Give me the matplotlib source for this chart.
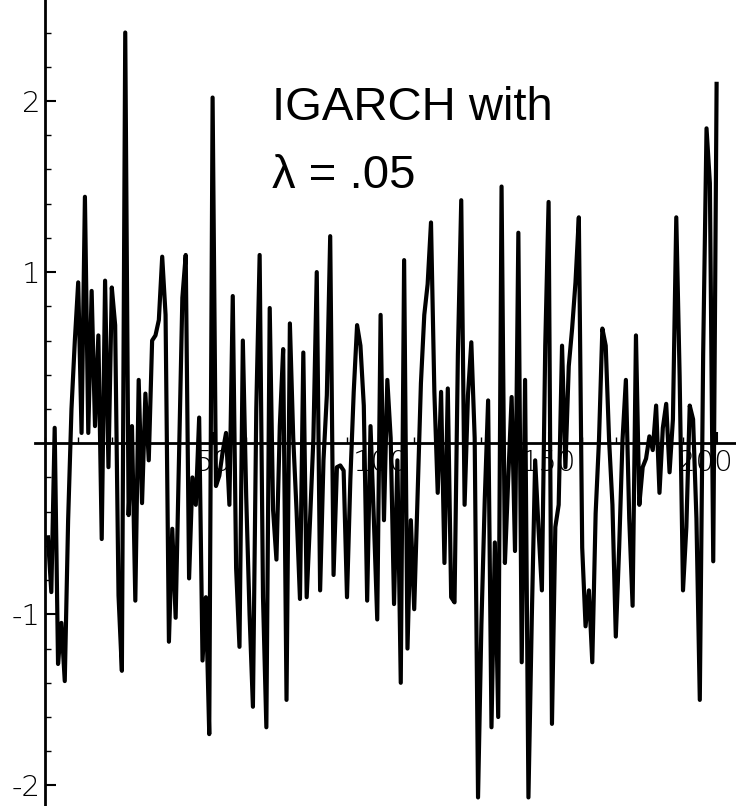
import numpy as np
import matplotlib
matplotlib.use("Agg")
import matplotlib.pyplot as plt
import matplotlib.transforms as mtransforms
from matplotlib.ticker import MultipleLocator

# simulated IGARCH series (t = 1..200)
values = [
    -0.55, -0.87, 0.09, -1.29, -1.05, -1.39, -0.45, 0.20, 0.60, 0.94,
    0.06, 1.44, 0.06, 0.89, 0.10, 0.63, -0.56, 0.95, -0.14, 0.91,
    0.69, -0.89, -1.33, 2.40, -0.42, 0.10, -0.92, 0.37, -0.35, 0.29,
    -0.10, 0.60, 0.63, 0.72, 1.09, 0.75, -1.16, -0.50, -1.02, -0.10,
    0.85, 1.10, -0.79, -0.20, -0.36, 0.15, -1.27, -0.90, -1.70, 2.02,
    -0.25, -0.19, -0.05, 0.06, -0.36, 0.86, -0.73, -1.19, 0.60, -0.31,
    -1.00, -1.54, 0.20, 1.10, -0.90, -1.66, 0.79, -0.39, -0.68, 0.10,
    0.55, -1.50, 0.70, 0.03, -0.40, -0.91, 0.53, -0.90, -0.45, 0.03,
    1.00, -0.86, -0.10, 0.28, 1.21, -0.77, -0.14, -0.13, -0.16, -0.90,
    -0.21, 0.30, 0.69, 0.57, 0.22, -0.92, 0.10, -0.45, -1.03, 0.75,
    -0.45, 0.37, 0.03, -0.94, -0.10, -1.40, 1.07, -1.20, -0.45, -0.97,
    -0.30, 0.35, 0.75, 0.93, 1.29, 0.30, -0.29, 0.30, -0.70, 0.32,
    -0.90, -0.93, 0.52, 1.42, -0.36, 0.28, 0.59, 0.03, -2.07, -1.06,
    -0.33, 0.25, -1.66, -0.58, -1.60, 1.50, -0.70, -0.20, 0.27, -0.63,
    1.23, -1.28, 0.37, -2.07, -1.02, -0.10, -0.50, -0.86, 0.57, 1.41,
    -1.64, -0.49, -0.36, 0.57, -0.14, 0.45, 0.67, 0.94, 1.32, -0.61,
    -1.07, -0.86, -1.28, -0.41, 0.02, 0.67, 0.57, 0.02, -0.36, -1.13,
    -0.61, 0.02, 0.37, -0.44, -0.95, 0.63, -0.36, -0.14, -0.09, 0.04,
    -0.04, 0.22, -0.29, 0.09, 0.23, -0.17, 0.14, 1.32, 0.39, -0.86,
    -0.49, 0.22, 0.14, -0.44, -1.50, 0.52, 1.84, 1.52, -0.69, 2.10,
]
t = np.arange(1, len(values) + 1)

x_ticks = [50, 100, 150, 200]
y_ticks = [-2, -1, 1, 2]

W, H = 736, 806
px_per_t = 3.36
x0 = 44.6                      # pixel of t = 0
xmin, xmax = -3, 205.5
left_px = x0 + xmin * px_per_t
width_px = (xmax - xmin) * px_per_t

fig = plt.figure(figsize=(W / 100, H / 100), dpi=100)
ax = fig.add_axes([left_px / W, 0, width_px / W, 1])
ax.set_xlim(xmin, xmax)
ax.set_ylim(-2.12, 2.59)

ax.plot(t, values, color="black", linewidth=3.0)

for side in ("top", "right"):
    ax.spines[side].set_visible(False)
for side in ("left", "bottom"):
    ax.spines[side].set_position(("data", 0))
    ax.spines[side].set_linewidth(2.0)

ax.set_xticks(x_ticks)
ax.set_yticks(y_ticks)
ax.set_xticklabels([str(v) for v in x_ticks], fontweight="light")
ax.set_yticklabels([str(v) for v in y_ticks], fontweight="light")
ax.xaxis.set_minor_locator(MultipleLocator(10))
ax.yaxis.set_minor_locator(MultipleLocator(0.2))
ax.tick_params(which="major", direction="in", length=8, width=1.5,
               labelsize=21, pad=3)
ax.tick_params(which="minor", direction="in", length=4, width=1.0)
ax.tick_params(axis="x", pad=4)

# nudge the last x label so it stays inside the picture, as in the scan
shift = mtransforms.ScaledTranslation(-12 / 100, 0, fig.dpi_scale_trans)
last = ax.get_xticklabels()[-1]
last.set_transform(last.get_transform() + shift)

fig.text(272 / W, 1 - 120 / H, "IGARCH with", fontsize=34,
         family="Liberation Sans", va="baseline", ha="left")
fig.text(272 / W, 1 - 188 / H, "λ = .05", fontsize=34,
         family="Liberation Sans", va="baseline", ha="left")

fig.savefig("out.png", dpi=100)
